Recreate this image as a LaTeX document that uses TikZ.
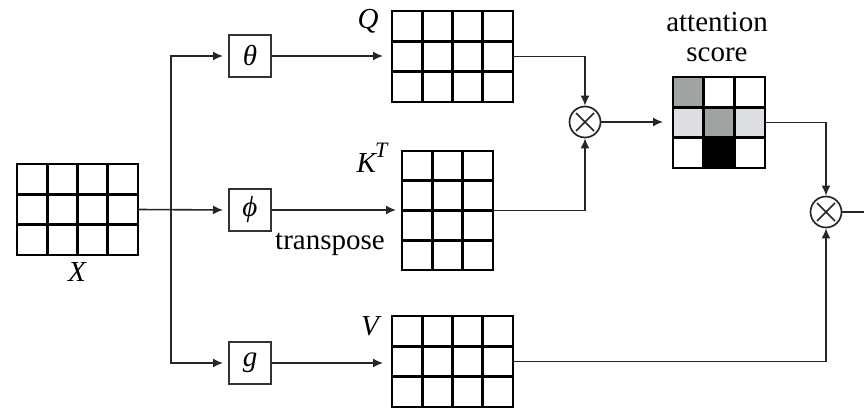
\documentclass[tikz,border=0pt]{standalone}
\usepackage{fontspec}
\setmainfont{Liberation Serif}
\usetikzlibrary{calc,arrows.meta}
\definecolor{darkcell}{HTML}{A0A3A3}
\definecolor{lightcell}{HTML}{DCDEE1}
\tikzset{
  every node/.style={font=\fontsize{29}{32}\selectfont},
  matbox/.style={inner sep=0pt, outer sep=0pt},
  gridline/.style={line width=2.8pt, line cap=rect},
  fbox/.style={draw=black!80, line width=2pt, minimum width=42pt, minimum height=42pt, inner sep=0pt, fill=white, font=\fontsize{29}{32}\selectfont\itshape},
  conn/.style={line width=1.6pt, draw=black!85},
  arr/.style={conn, -{Latex[length=10pt,width=9pt]}},
  mulnode/.style={circle, draw=black!85, line width=1.7pt, minimum size=31pt, inner sep=0pt},
  lbl/.style={inner sep=0pt, font=\fontsize{29}{32}\selectfont\itshape},
}
% #1 name, #2 cols, #3 rows
\newcommand\mygridlines[3]{%
  \draw[gridline] (#1.north west) rectangle (#1.south east);
  \pgfmathtruncatemacro\mycm{#2-1}
  \pgfmathtruncatemacro\myrm{#3-1}
  \foreach \i in {1,...,\mycm}
    \draw[gridline] ($(#1.north west)!\i/#2!(#1.north east)$) -- ($(#1.south west)!\i/#2!(#1.south east)$);
  \foreach \j in {1,...,\myrm}
    \draw[gridline] ($(#1.north west)!\j/#3!(#1.south west)$) -- ($(#1.north east)!\j/#3!(#1.south east)$);
}
% #1 name, #2 center, #3 width, #4 height, #5 cols, #6 rows
\newcommand\mymatrix[6]{%
  \node[matbox, minimum width=#3pt, minimum height=#4pt] (#1) at (#2) {};
  \mygridlines{#1}{#5}{#6}
}
% #1 name, #2 col, #3 row, #4 colour (3x3 cells)
\newcommand\mycell[4]{%
  \fill[#4] ($(#1.north west)+(#2*92/3,#3*91/3)$) rectangle ($(#1.north west)+(#2*92/3+92/3,#3*91/3+91/3)$);
}
\begin{document}
\begin{tikzpicture}[x=1pt,y=-1pt]
\useasboundingbox (0,0) rectangle (864,409);
% matrices
\mymatrix{X}{77.5,209.5}{121}{91}{4}{3}
\mymatrix{Q}{452.5,56.5}{121}{91}{4}{3}
\mymatrix{K}{447.5,210.5}{91}{119}{3}{4}
\mymatrix{V}{452.5,361.5}{121}{91}{4}{3}
% attention score matrix
\node[matbox, minimum width=92pt, minimum height=91pt] (A) at (719,122.5) {};
\mycell{A}{0}{0}{darkcell}
\mycell{A}{0}{1}{lightcell}
\mycell{A}{1}{1}{darkcell}
\mycell{A}{2}{1}{lightcell}
\mycell{A}{1}{2}{black}
\mygridlines{A}{3}{3}
% function boxes
\node[fbox] (theta) at (250,56) {θ};
\node[fbox] (phi) at (250,210) {ϕ};
\node[fbox] (g) at (250,363) {g};
% multiplication nodes
\node[mulnode] (m1) at (585,122) {};
\draw[conn] ($(m1)+(-9,-9)$) -- ($(m1)+(9,9)$) ($(m1)+(-9,9)$) -- ($(m1)+(9,-9)$);
\node[mulnode] (m2) at (826,212) {};
\draw[conn] ($(m2)+(-9,-9)$) -- ($(m2)+(9,9)$) ($(m2)+(-9,9)$) -- ($(m2)+(9,-9)$);
% labels
\node[lbl] (lX) at (77,272) {X};
\node[lbl] (lQ) at (368,21) {Q};
\node[lbl, anchor=base] (lK) at (372,172) {K\kern-1pt\raisebox{0.5em}{\fontsize{22}{24}\selectfont T}};
\node[lbl] (lV) at (370,326) {V};
\node[inner sep=0pt, anchor=base] (ltr) at (330,249) {transpose};
\node[inner sep=0pt, anchor=base] (lat1) at (717,32) {attention};
\node[inner sep=0pt, anchor=base] (lat2) at (717,62) {score};
% connectors
\coordinate (tr) at (171,210);
\coordinate (out) at (864,212);
\draw[arr, shorten >=5pt] (X.east) -- (phi.west);
\draw[arr, shorten >=5pt] (tr) |- (theta.west);
\draw[arr, shorten >=5pt] (tr) |- (g.west);
\draw[arr, shorten >=9pt] (theta.east) -- (theta.east -| Q.west);
\draw[arr, shorten >=6pt] (phi.east) -- (phi.east -| K.west);
\draw[arr, shorten >=9pt] (g.east) -- (g.east -| V.west);
\draw[arr] (Q.east) -| (m1.north);
\draw[arr] (K.east) -| (m1.south);
\draw[arr, shorten >=10pt] (m1.east) -- (m1.east -| A.west);
\draw[arr] (A.east) -| (m2.north);
\draw[arr] (V.east) -| (m2.south);
\draw[conn] (m2.east) -- (out);
\end{tikzpicture}
\end{document}
